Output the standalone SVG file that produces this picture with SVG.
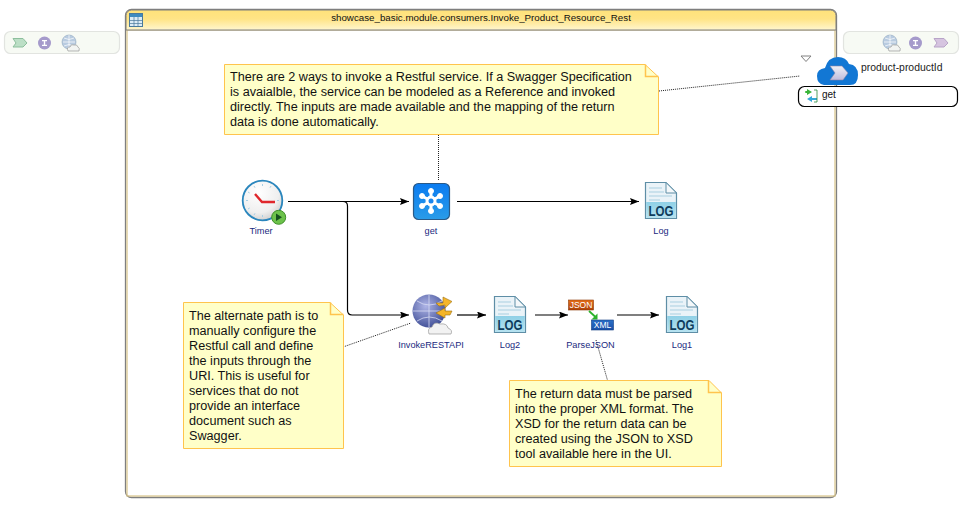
<svg xmlns="http://www.w3.org/2000/svg" width="973" height="522" viewBox="0 0 973 522">
<style>
text{font-family:"Liberation Sans",Arial,sans-serif}
.lbl{font-size:9.200px;fill:#1a2a80;text-anchor:middle}
.note{font-size:12.650px;fill:#111}
.nb{fill:#ffffc8;stroke:#ffc44d;stroke-width:1}
.fold{fill:none;stroke:#ffc44d;stroke-width:1.500}
.c{fill:none;stroke:#000;stroke-width:1.200}
.d{fill:none;stroke:#222;stroke-width:1;stroke-dasharray:1 1}
.lane{fill:#f7faf4;stroke:#e2e4e0;stroke-width:1.200}
</style>
<defs>
<marker id="ah" markerWidth="10" markerHeight="8" refX="9" refY="3.500" orient="auto" markerUnits="userSpaceOnUse"><path d="M0 0L9 3.500L0 7L1.500 3.500Z" fill="#000"/></marker>
<linearGradient id="hdr" x1="0" y1="0" x2="0" y2="1"><stop offset="0" stop-color="#ffe27a"/><stop offset=".45" stop-color="#ffe486"/><stop offset="1" stop-color="#fff6cf"/></linearGradient>
<linearGradient id="gb" x1="0" y1="0" x2="0" y2="1"><stop offset="0" stop-color="#0a7bf0"/><stop offset="1" stop-color="#2a9ce8"/></linearGradient>
<linearGradient id="band" x1="0" y1="0" x2="0" y2="1"><stop offset="0" stop-color="#8fd0e6"/><stop offset="1" stop-color="#b6e2f0"/></linearGradient>
<linearGradient id="cl" x1="0" y1="0" x2="0" y2="1"><stop offset="0" stop-color="#f0f0f6"/><stop offset="1" stop-color="#c0bcdc"/></linearGradient>
<linearGradient id="or" x1="0" y1="0" x2="0" y2="1"><stop offset="0" stop-color="#e8701a"/><stop offset="1" stop-color="#b04208"/></linearGradient>
<linearGradient id="bl" x1="0" y1="0" x2="0" y2="1"><stop offset="0" stop-color="#2a70c8"/><stop offset="1" stop-color="#1a50a8"/></linearGradient>
<radialGradient id="face" cx=".4" cy=".3" r=".85"><stop offset="0" stop-color="#fff"/><stop offset=".6" stop-color="#efefef"/><stop offset="1" stop-color="#bdbdbd"/></radialGradient>
<radialGradient id="globe" cx=".4" cy=".35" r=".75"><stop offset="0" stop-color="#aeb4e6"/><stop offset="1" stop-color="#34448e"/></radialGradient>
<g id="log">
<path d="M0.500 0.500H21L31.500 11V36.500H0.500Z" fill="#eaf3f8" stroke="#5e8ea6" stroke-width="1.200"/>
<rect x="1.200" y="20" width="29.600" height="16" fill="url(#band)"/>
<path d="M21 0.500V11H31.500Z" fill="#f4f8fa" stroke="#5e8ea6"/>
<path d="M4 6H17M4 10H19M4 14H27M4 18H15" stroke="#a9cfe0" stroke-width="1" fill="none"/>
<text x="16" y="33.500" font-size="14" font-weight="bold" fill="#0e3c5c" text-anchor="middle" textLength="25" lengthAdjust="spacingAndGlyphs">LOG</text>
</g>
<g id="cloudglobe">
<circle cx="7" cy="7" r="7" fill="#b8cbe0" stroke="#8fa6c0" stroke-width=".6"/>
<path d="M1 7H13M7 0V14M2 3Q7 6 12 3M2 11Q7 8 12 11" stroke="#fff" stroke-width=".7" fill="none"/>
<path d="M6 16Q4 12 8 12Q9 8.500 12 10Q15 9 16 12Q18 13 17 16Z" fill="#f2f4f2" stroke="#9a9a9a" stroke-width=".7"/>
</g>
<g id="ibtn"><circle cx="6.500" cy="6.500" r="6.500" fill="#a59acb"/><path d="M4 3.500H9V4.800H7.200V8.200H9V9.500H4V8.200H5.800V4.800H4Z" fill="#fff"/></g>
</defs>

<g id="left-lane">
<rect x="4.500" y="31.500" width="115" height="22" rx="6" class="lane"/>
<path d="M13 38.500H23L27 43L23 47H13L16 43Z" fill="#bcdfc6" stroke="#8dbf9d"/>
<use href="#ibtn" x="38" y="36.500"/>
<use href="#cloudglobe" x="62" y="35"/>
</g>

<g id="process">
<rect x="125.500" y="9.500" width="711" height="488" rx="6" fill="#fff" stroke="#7f7f7f" stroke-width="1.300"/>
<rect x="127" y="30" width="708" height="466" fill="none" stroke="#d8c488" stroke-width="1.200"/>
<path d="M126 30V15.500a5.500 5.500 0 0 1 5.500-5.500H830.500a5.500 5.500 0 0 1 5.500 5.500V30Z" fill="url(#hdr)" stroke="#7f7f7f"/>
<rect x="129.500" y="13.500" width="13" height="13" fill="#dcecf6" stroke="#4a7a9c"/>
<rect x="130" y="14" width="12" height="3" fill="#3f8bc0"/>
<path d="M130 20.500H142M130 23.500H142M134 17V26M138 17V26" stroke="#4a7a9c" stroke-width=".7"/>
<text x="481" y="21" font-size="9.750" fill="#111" text-anchor="middle">showcase_basic.module.consumers.Invoke_Product_Resource_Rest</text>
</g>

<g id="right-lane">
<rect x="843.500" y="31.500" width="115" height="22" rx="6" class="lane"/>
<use href="#cloudglobe" x="883" y="35"/>
<use href="#ibtn" x="909" y="36.500"/>
<path d="M934 38.500H944L948 43L944 47H934L937 43Z" fill="#d6c4e0" stroke="#b8a4c8"/>
</g>

<g id="connectors">
<path class="d" d="M659 91L800 76"/>
<path class="d" d="M438.500 135V180"/>
<path class="d" d="M343 347L411 323"/>
<path class="d" d="M596 340L608 382"/>
<path class="c" d="M288 201.500H409" marker-end="url(#ah)"/>
<path class="c" d="M343 201.500Q347.500 201.500 347.500 206V310Q347.500 315 352 315H409" marker-end="url(#ah)"/>
<path class="c" d="M457 201.500H639" marker-end="url(#ah)"/>
<path class="c" d="M457 315H486" marker-end="url(#ah)"/>
<path class="c" d="M535 315H568" marker-end="url(#ah)"/>
<path class="c" d="M617 315H659" marker-end="url(#ah)"/>
</g>

<g id="note1">
<path class="nb" d="M224.500 64.500H645L658.500 77V134.500H224.500Z"/>
<path class="fold" d="M645.500 64.500V76.500H658.500"/>
<text class="note"><tspan x="230" y="81">There are 2 ways to invoke a Restful service. If a Swagger Specification</tspan><tspan x="230" y="96">is avaialble, the service can be modeled as a Reference and invoked</tspan><tspan x="230" y="111">directly. The inputs are made available and the mapping of the return</tspan><tspan x="230" y="126">data is done automatically.</tspan></text>
</g>

<g id="note2">
<path class="nb" d="M183.500 302.500H330L343.500 315V448.500H183.500Z"/>
<path class="fold" d="M330.500 302.500V314.500H343.500"/>
<text class="note"><tspan x="189" y="320">The alternate path is to</tspan><tspan x="189" y="335">manually configure the</tspan><tspan x="189" y="350">Restful call and define</tspan><tspan x="189" y="365">the inputs through the</tspan><tspan x="189" y="380">URI. This is useful for</tspan><tspan x="189" y="395">services that do not</tspan><tspan x="189" y="410">provide an interface</tspan><tspan x="189" y="425">document such as</tspan><tspan x="189" y="440">Swagger.</tspan></text>
</g>

<g id="note3">
<path class="nb" d="M509.500 380.500H709L721.500 393V466.500H509.500Z"/>
<path class="fold" d="M708.500 380.500V392.500H721.500"/>
<text class="note"><tspan x="515" y="398">The return data must be parsed</tspan><tspan x="515" y="413">into the proper XML format. The</tspan><tspan x="515" y="428">XSD for the return data can be</tspan><tspan x="515" y="443">created using the JSON to XSD</tspan><tspan x="515" y="458">tool available here in the UI.</tspan></text>
</g>

<g id="timer">
<circle cx="262.500" cy="200.500" r="19.800" fill="url(#face)" stroke="#2a86bd" stroke-width="1.800"/>
<path d="M262.500 184V186M262.500 215V217M246 200.500H248M277 200.500H279M254 186L255 187.700M271 186L270 187.700M254 215L255 213.300M248 192L249.700 193M248 209L249.700 208" stroke="#a8cfe4" stroke-width="1"/>
<path d="M255 194L262 202L275 202" fill="none" stroke="#e0272c" stroke-width="2.400"/>
<circle cx="278.700" cy="217.300" r="7" fill="#6cc24a" stroke="#3f8f2a"/>
<path d="M276 213.500L282 217.300L276 221Z" fill="#14501c"/>
<text class="lbl" x="261" y="234">Timer</text>
</g>

<g id="get-node">
<rect x="413.500" y="183.500" width="36" height="36" rx="5" fill="url(#gb)" stroke="#2a5a88" stroke-width="1.200"/>
<g fill="#fff" stroke="#fff"><circle cx="431" cy="201" r="5"/><path d="M431 191V211M422 196L440 206M440 196L422 206" stroke-width="3"/><circle cx="431" cy="191" r="2.500"/><circle cx="431" cy="211" r="2.500"/><circle cx="422" cy="196" r="2.500"/><circle cx="440" cy="196" r="2.500"/><circle cx="422" cy="206" r="2.500"/><circle cx="440" cy="206" r="2.500"/></g>
<circle cx="431" cy="201" r="2.500" fill="#1a86ee"/>
<text class="lbl" x="431" y="234">get</text>
</g>

<g id="log-node">
<use href="#log" x="645" y="182"/>
<text class="lbl" x="661" y="234">Log</text>
</g>

<g id="invoke">
<circle cx="429" cy="311" r="16.500" fill="url(#globe)"/>
<path d="M413 311H445M429 295V327M417 301Q429 309 442 301M417 321Q429 313 442 321" stroke="#d8dcf4" stroke-width=".8" fill="none"/>
<path d="M436 303L443 303L443 297L452 301.500L445 308L445 305L439 306Z" fill="#f4b52a" stroke="#9a7016" stroke-width=".6"/>
<path d="M452 311L445 311L445 308L436 313L445 318L445 315L450 315Z" fill="#f4b52a" stroke="#9a7016" stroke-width=".6"/>
<path d="M429 334Q427 328 432 327Q434 321 440 324Q447 323 448 328Q453 330 451 334Z" fill="#f2f2f2" stroke="#999" stroke-width=".7"/>
<text class="lbl" x="431" y="348">InvokeRESTAPI</text>
</g>

<g id="log2">
<use href="#log" x="494" y="296"/>
<text class="lbl" x="510" y="348">Log2</text>
</g>

<g id="parsejson">
<rect x="568.500" y="300" width="25" height="10" fill="url(#or)" stroke="#8a3a08" stroke-width=".6"/>
<text x="581" y="308.200" font-size="8.500" fill="#fff" text-anchor="middle">JSON</text>
<path d="M589 311L595.500 317" stroke="#2bb32b" stroke-width="1.800"/>
<path d="M597.500 313.500V319.500H591.500Z" fill="#2bb32b"/>
<rect x="591.500" y="320" width="22" height="10" fill="url(#bl)" stroke="#123c80" stroke-width=".6"/>
<text x="602.500" y="328.200" font-size="8.500" fill="#fff" text-anchor="middle">XML</text>
<text class="lbl" x="590.500" y="348">ParseJSON</text>
</g>

<g id="log1">
<use href="#log" x="666" y="296"/>
<text class="lbl" x="682" y="348">Log1</text>
</g>

<g id="reference">
<path d="M801 56H811L806 61.500Z" fill="#fff" stroke="#808080"/>
<path d="M824 85Q817 84 817 76Q817 69 825 68Q828 57 838 57Q846 57 849 64Q858 65 858 75Q858 85 850 85Z" fill="#1277d4"/>
<path d="M830 66H842L848 73L843 80H830L835 73Z" fill="url(#cl)" stroke="#8a84a8" stroke-width=".6"/>
<text x="861" y="71" font-size="10.400" fill="#222">product-productId</text>
<rect x="798.500" y="86.500" width="159" height="20" rx="6" fill="#fff" stroke="#000" stroke-width="1.200"/>
<path d="M807 89L812 92L807 95V93H806V91H807Z" fill="#3ab53a"/>
<path d="M806 96L806 98H811V100H806V102L801 99Z" transform="translate(6 0)" fill="#35a8d8"/>
<path d="M805 92H807" stroke="#3ab53a" stroke-width="1.500"/>
<path d="M814 90H817V102H814" fill="none" stroke="#2a8a3a" stroke-width=".8"/>
<text x="822" y="98" font-size="10" fill="#111">get</text>
</g>
</svg>
